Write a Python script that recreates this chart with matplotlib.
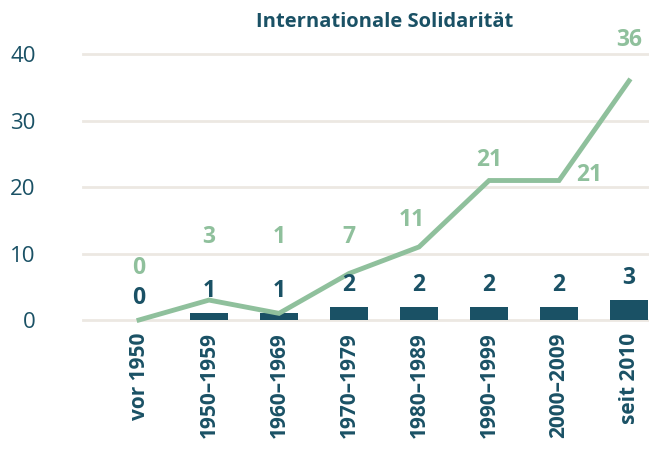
import matplotlib
matplotlib.use("Agg")
import matplotlib.pyplot as plt
import numpy as np

categories = ["vor 1950", "1950–1959", "1960–1969", "1970–1979",
              "1980–1989", "1990–1999", "2000–2009", "seit 2010"]
bar_values = [0, 1, 1, 2, 2, 2, 2, 3]
line_values = [0, 3, 1, 7, 11, 21, 21, 36]
yticks = [0, 10, 20, 30, 40]
title = "Internationale Solidarität"

# style
DARK = "#1a5165"
GREEN = "#8fc09c"
GRID = "#ece8e2"
line_label_offsets = [(0, 52), (0, 63), (0, 76), (0, 37), (-7, 27), (0, 21), (30, 6), (0, 41)]

plt.rcParams['font.family'] = ['Open Sans', 'DejaVu Sans']

W, H = 649, 455
fig = plt.figure(figsize=(W / 100, H / 100), dpi=100)
left, right = 83 / W, 1.0
bottom = (H - 320) / H
top = (H - 54.3) / H
ax = fig.add_axes([left, bottom, right - left, top - bottom])

x = np.arange(len(categories))
ax.set_xlim(-0.8, 7.285)
ax.set_ylim(0, 40)

for t in yticks:
    ax.axhline(t, color=GRID, lw=2.0, zorder=0, clip_on=False)

ax.bar(x, bar_values, width=0.545, color=DARK, zorder=2)
ax.plot(x, line_values, color=GREEN, lw=3.5, zorder=3, clip_on=False,
        solid_joinstyle='miter')

for xi, v in zip(x, bar_values):
    ax.annotate(str(v), (xi, v), xytext=(0, 22), textcoords='offset pixels',
                ha='center', va='center', fontsize=16.5, fontweight='bold',
                color=DARK, annotation_clip=False)

for xi, v, off in zip(x, line_values, line_label_offsets):
    ax.annotate(str(v), (xi, v), xytext=off, textcoords='offset pixels',
                ha='center', va='center', fontsize=16.5, fontweight='bold',
                color=GREEN, annotation_clip=False)

for s in ax.spines.values():
    s.set_visible(False)

ax.set_yticks(yticks)
ax.set_yticklabels([str(t) for t in yticks], fontsize=16, color=DARK)
ax.tick_params(axis='y', length=0, pad=34)
ax.set_xticks(x)
ax.set_xticklabels(categories, rotation=90, fontsize=15, fontweight='bold', color=DARK)
ax.tick_params(axis='x', length=0, pad=9)

fig.text(385 / W, (H - 22) / H, title, ha='center', va='center',
         fontsize=14.5, fontweight='bold', color=DARK)

fig.savefig("out.png", dpi=100)
